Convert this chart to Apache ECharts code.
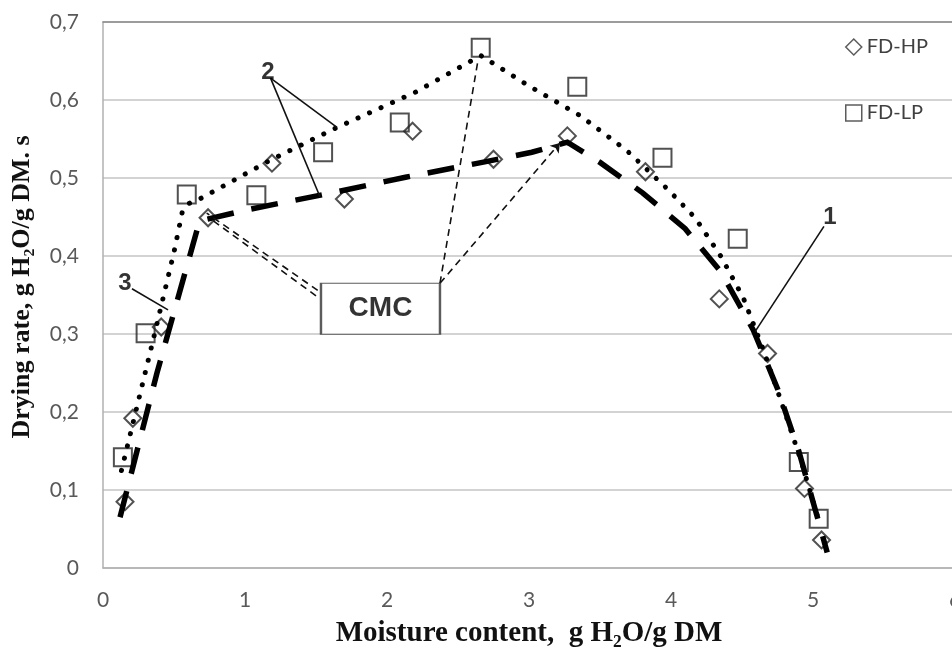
<!DOCTYPE html>
<html>
<head>
<meta charset="utf-8">
<script src="https://cdn.jsdelivr.net/npm/echarts@6/dist/echarts.min.js"></script>
<style>
  html, body { margin: 0; padding: 0; background: #ffffff; }
  #chart { width: 952px; height: 651px; }
</style>
</head>
<body>
<div id="chart"></div>
<script>
// Measured drying rate, FD-HP (diamonds): [moisture content, drying rate]
const fdHP = [
  [0.155, 0.085], [0.21, 0.192], [0.41, 0.309], [0.74, 0.449],
  [1.19, 0.519], [1.70, 0.473], [2.18, 0.560], [2.75, 0.524],
  [3.27, 0.554], [3.82, 0.508], [4.34, 0.345], [4.68, 0.275],
  [4.94, 0.102], [5.06, 0.036]
];
// Measured drying rate, FD-LP (squares)
const fdLP = [
  [0.14, 0.142], [0.30, 0.301], [0.59, 0.479], [1.08, 0.478],
  [1.55, 0.533], [2.09, 0.571], [2.66, 0.667], [3.34, 0.617],
  [3.94, 0.526], [4.47, 0.422], [4.90, 0.136], [5.04, 0.063]
];
// Drying curve drawn through the FD-LP data (dotted)
const curveLP = [
  [0.13, 0.125], [0.35, 0.29], [0.50, 0.405], [0.56, 0.458], [0.60, 0.467],
  [0.68, 0.473], [1.18, 0.523], [1.65, 0.565], [2.20, 0.61], [2.66, 0.657],
  [3.00, 0.618], [3.36, 0.58], [3.69, 0.535], [3.98, 0.485], [4.17, 0.449],
  [4.35, 0.40], [4.51, 0.346], [4.65, 0.28], [4.79, 0.206], [4.92, 0.135],
  [5.05, 0.055]
];
// Drying curve drawn through the FD-HP data (heavy dashes)
const curveHP = [
  [0.12, 0.065], [0.38, 0.25], [0.68, 0.445], [1.035, 0.46], [1.56, 0.479],
  [2.13, 0.501], [2.67, 0.52], [3.02, 0.533], [3.27, 0.546], [3.50, 0.52],
  [3.80, 0.481], [4.10, 0.435], [4.35, 0.38], [4.58, 0.305], [4.75, 0.23],
  [4.90, 0.15], [5.00, 0.085], [5.10, 0.02]
];
// Axis ticks
const xTicks = [0, 1, 2, 3, 4, 5, 6];
const yTicks = [0, 0.1, 0.2, 0.3, 0.4, 0.5, 0.6, 0.7];

// Callout numbers and their leader lines (data coordinates)
const calloutLabels = [
  { name: '1', value: [5.12, 0.449] },
  { name: '2', value: [1.162, 0.635] },
  { name: '3', value: [0.155, 0.365] }
];
const calloutLeaders = [
  [[5.077, 0.438], [4.592, 0.303]],
  [[1.18, 0.628], [1.648, 0.565]],
  [[1.18, 0.628], [1.528, 0.476]],
  [[0.204, 0.358], [0.458, 0.331]]
];
// CMC box and its dashed pointers
const cmcBox = [[1.954, 0.3325]];
const cmcPointers = [
  [[2.373, 0.365], [2.641, 0.651]],
  [[1.512, 0.356], [0.73, 0.455]],
  [[1.50, 0.349], [0.77, 0.446]]
];
const cmcArrow = [[[2.373, 0.365], [3.218, 0.545]]];

const tickFont = 'Lato, "Open Sans", sans-serif';
const serif = '"Liberation Serif", "DejaVu Serif", serif';

const chart = echarts.init(document.getElementById('chart'), null, { renderer: 'canvas' });

const option = {
  animation: false,
  backgroundColor: '#ffffff',
  grid: { left: 103, right: -3, top: 22, bottom: 83, containLabel: false, outerBoundsMode: 'none' },
  legend: {
    orient: 'vertical',
    left: 845,
    top: 37,
    itemGap: 46,
    itemWidth: 16,
    itemHeight: 16,
    padding: 0,
    selectedMode: false,
    textStyle: { fontFamily: tickFont, fontSize: 20, color: '#404040' },
    data: [
      { name: 'FD-HP', icon: 'diamond',
        itemStyle: { color: '#ffffff', borderColor: '#333333', borderWidth: 1.5 } },
      { name: 'FD-LP', icon: 'rect',
        itemStyle: { color: '#ffffff', borderColor: '#333333', borderWidth: 1.5 } }
    ]
  },
  xAxis: [
    {
      type: 'value',
      min: xTicks[0],
      max: xTicks[xTicks.length - 1],
      interval: 1,
      name: 'Moisture content,  g H₂O/g DM',
      nameLocation: 'middle',
      nameGap: 51,
      nameTextStyle: { fontFamily: serif, fontWeight: 'bold', fontSize: 29, color: '#111' },
      axisLine: { show: true, lineStyle: { color: '#b0b0b0', width: 1.5 } },
      axisTick: { show: false },
      axisLabel: { margin: 22, fontFamily: tickFont, fontSize: 21, color: '#595959' },
      splitLine: { show: false }
    },
    {
      type: 'value',
      position: 'top',
      min: xTicks[0],
      max: xTicks[xTicks.length - 1],
      axisLine: { show: true, lineStyle: { color: '#8a8a8a', width: 1.5 } },
      axisTick: { show: false },
      axisLabel: { show: false },
      splitLine: { show: false }
    }
  ],
  yAxis: {
    type: 'value',
    min: yTicks[0],
    max: yTicks[yTicks.length - 1],
    interval: 0.1,
    name: 'Drying rate, g H₂O/g DM. s',
    nameLocation: 'middle',
    nameGap: 68,
    nameTextStyle: { fontFamily: serif, fontWeight: 'bold', fontSize: 26, color: '#111', padding: [0, 0, 0, 16] },
    axisLine: { show: true, lineStyle: { color: '#b0b0b0', width: 1.5 } },
    axisTick: { show: false },
    axisLabel: {
      margin: 24,
      fontFamily: tickFont,
      fontSize: 21,
      color: '#595959',
      formatter: v => (v === 0 ? '0' : v.toFixed(1).replace('.', ','))
    },
    splitLine: { show: true, lineStyle: { color: '#c4c4c4', width: 1.5 } }
  },
  series: [
    {
      name: 'FD-HP',
      type: 'scatter',
      data: fdHP,
      symbol: 'diamond',
      symbolSize: 17,
      z: 2,
      itemStyle: { color: 'rgba(255,255,255,0)', borderColor: '#262626', borderWidth: 2 }
    },
    {
      name: 'FD-LP',
      type: 'scatter',
      data: fdLP,
      symbol: 'rect',
      symbolSize: 18,
      z: 2,
      itemStyle: { color: 'rgba(255,255,255,0)', borderColor: '#262626', borderWidth: 2 }
    },
    {
      name: 'curve LP',
      type: 'line',
      data: curveLP,
      showSymbol: false,
      symbol: 'none',
      z: 4,
      silent: true,
      lineStyle: { color: '#000', width: 5, type: [0.1, 12.5], cap: 'round', join: 'round' }
    },
    {
      name: 'curve HP',
      type: 'line',
      data: curveHP,
      showSymbol: false,
      symbol: 'none',
      z: 3,
      silent: true,
      lineStyle: { color: '#000', width: 5.5, type: [27, 18], cap: 'butt', join: 'miter' }
    },
    {
      name: 'callout leaders',
      type: 'lines',
      coordinateSystem: 'cartesian2d',
      silent: true,
      z: 5,
      symbol: 'none',
      lineStyle: { color: '#111', width: 1.6, type: 'solid', opacity: 1 },
      data: calloutLeaders.map(c => ({ coords: c }))
    },
    {
      name: 'CMC pointers',
      type: 'lines',
      coordinateSystem: 'cartesian2d',
      silent: true,
      z: 5,
      symbol: 'none',
      lineStyle: { color: '#111', width: 1.6, type: [7, 5], opacity: 1 },
      data: cmcPointers.map(c => ({ coords: c }))
    },
    {
      name: 'CMC arrow',
      type: 'lines',
      coordinateSystem: 'cartesian2d',
      silent: true,
      z: 5,
      symbol: ['none', 'arrow'],
      symbolSize: 9,
      lineStyle: { color: '#111', width: 1.6, type: [7, 5], opacity: 1 },
      data: cmcArrow.map(c => ({ coords: c }))
    },
    {
      name: 'callout numbers',
      type: 'scatter',
      data: calloutLabels,
      symbolSize: 0,
      silent: true,
      z: 6,
      label: {
        show: true,
        position: 'inside',
        formatter: p => p.name,
        fontFamily: '"Liberation Sans", Arial, sans-serif',
        fontWeight: 'bold',
        fontSize: 24,
        color: '#000'
      }
    },
    {
      name: 'CMC',
      type: 'scatter',
      data: cmcBox,
      symbol: 'rect',
      symbolSize: [119, 51],
      silent: true,
      z: 6,
      itemStyle: { color: '#ffffff', borderColor: '#333333', borderWidth: 1.6 },
      label: {
        show: true,
        position: 'inside',
        formatter: 'CMC',
        fontFamily: '"Liberation Sans", Arial, sans-serif',
        fontWeight: 'bold',
        fontSize: 28,
        color: '#000'
      }
    }
  ]
};

chart.setOption(option);
</script>
</body>
</html>
